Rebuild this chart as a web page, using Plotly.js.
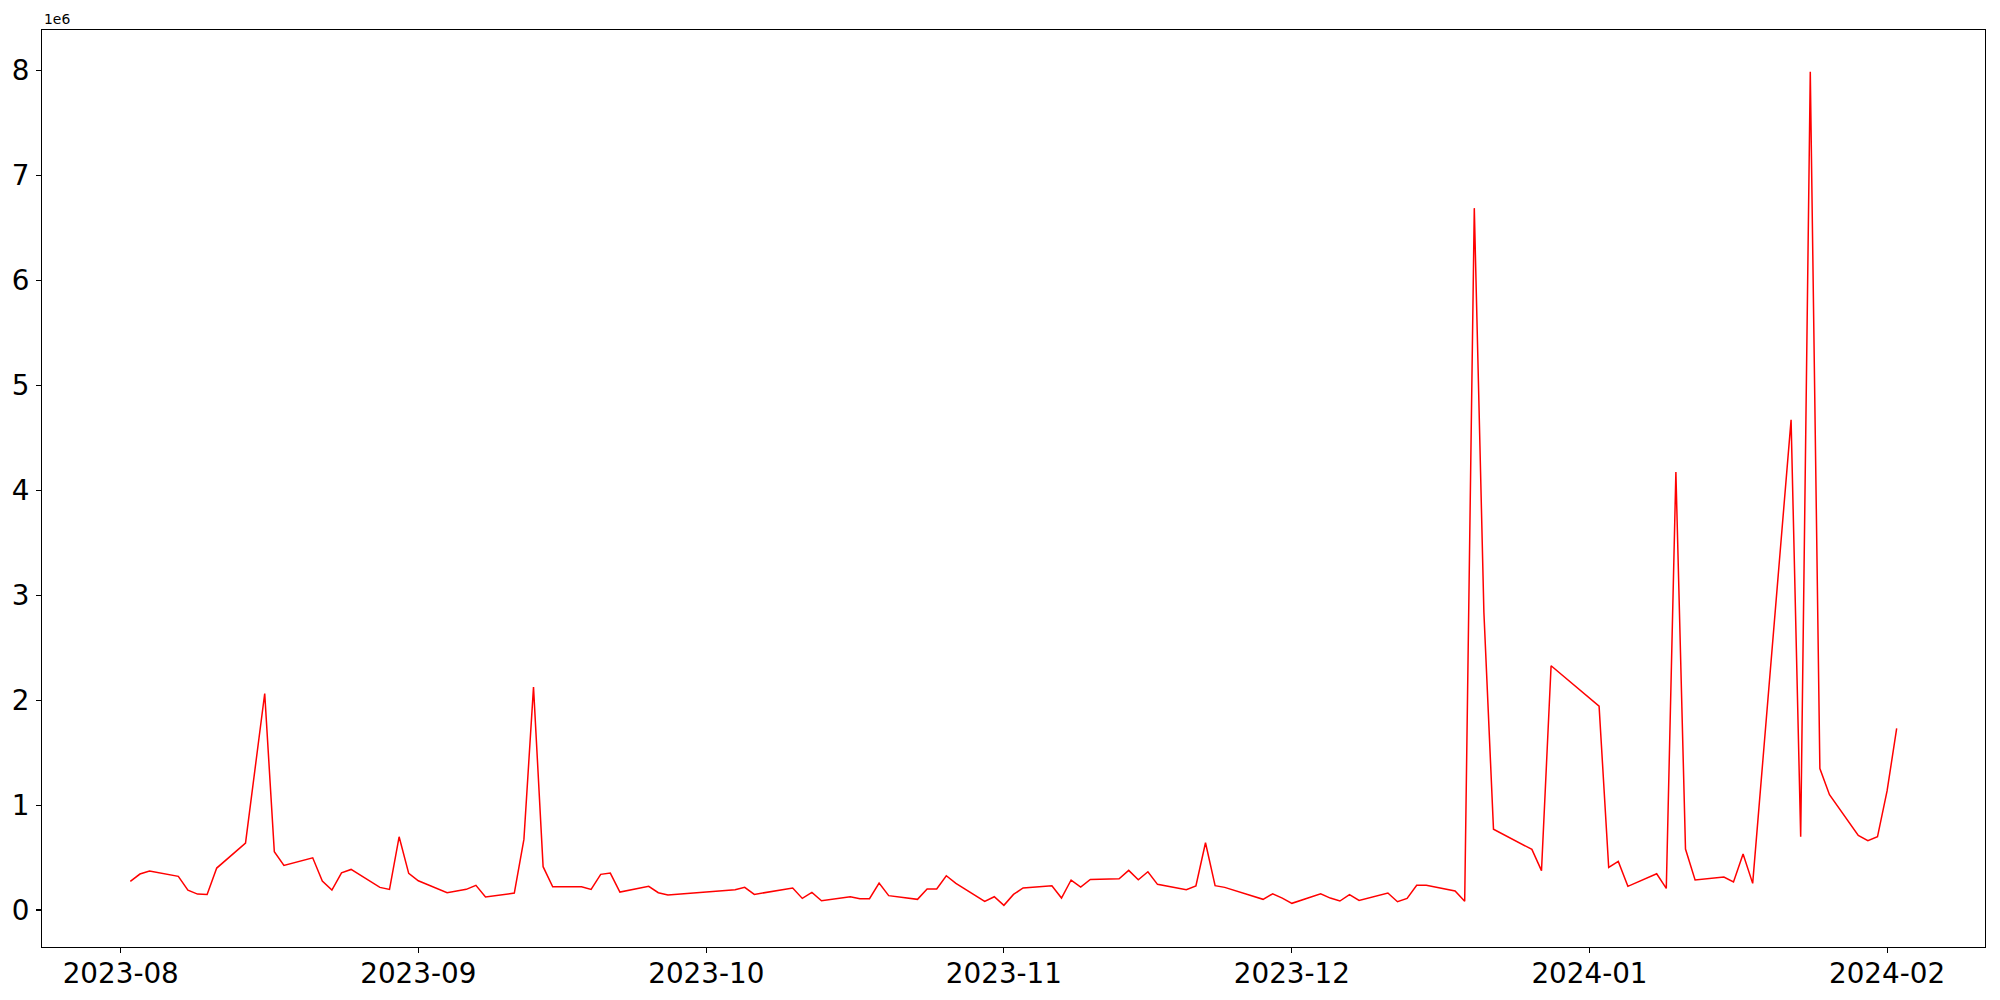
<!DOCTYPE html>
<html>
<head>
<meta charset="utf-8">
<script src="https://cdn.plot.ly/plotly-3.0.1.min.js"></script>
<style>
  html, body { margin: 0; padding: 0; background: #ffffff; }
  #chart { width: 2000px; height: 1000px; }
</style>
</head>
<body>
<div id="chart"></div>
<script>
// Dates of the series (trading days)
const dates = [
  "2023-08-02","2023-08-03","2023-08-04","2023-08-07","2023-08-08","2023-08-09","2023-08-10","2023-08-11",
  "2023-08-14","2023-08-16","2023-08-17","2023-08-18","2023-08-21","2023-08-22","2023-08-23","2023-08-24",
  "2023-08-25","2023-08-28","2023-08-29","2023-08-30","2023-08-31","2023-09-01","2023-09-04","2023-09-06",
  "2023-09-07","2023-09-08","2023-09-11","2023-09-12","2023-09-13","2023-09-14","2023-09-15","2023-09-18",
  "2023-09-19","2023-09-20","2023-09-21","2023-09-22","2023-09-25","2023-09-26","2023-09-27","2023-10-04",
  "2023-10-05","2023-10-06","2023-10-10","2023-10-11","2023-10-12","2023-10-13","2023-10-16","2023-10-17",
  "2023-10-18","2023-10-19","2023-10-20","2023-10-23","2023-10-24","2023-10-25","2023-10-26","2023-10-27",
  "2023-10-30","2023-10-31","2023-11-01","2023-11-02","2023-11-03","2023-11-06","2023-11-07","2023-11-08",
  "2023-11-09","2023-11-10","2023-11-13","2023-11-14","2023-11-15","2023-11-16","2023-11-17","2023-11-20",
  "2023-11-21","2023-11-22","2023-11-23","2023-11-24","2023-11-28","2023-11-29","2023-11-30","2023-12-01",
  "2023-12-04","2023-12-05","2023-12-06","2023-12-07","2023-12-08","2023-12-11","2023-12-12","2023-12-13",
  "2023-12-14","2023-12-15","2023-12-18","2023-12-19","2023-12-20","2023-12-21","2023-12-22","2023-12-26",
  "2023-12-27","2023-12-28","2024-01-02","2024-01-03","2024-01-04","2024-01-05","2024-01-08","2024-01-09",
  "2024-01-10","2024-01-11","2024-01-12","2024-01-15","2024-01-16","2024-01-17","2024-01-18","2024-01-22",
  "2024-01-23","2024-01-24","2024-01-25","2024-01-26","2024-01-29","2024-01-30","2024-01-31","2024-02-01",
  "2024-02-02"
];

// Series values
const values = [
  273000, 343000, 371000, 321000, 190000, 152000, 149000, 400000,
  638000, 2063000, 555000, 425000, 498000, 276000, 190000, 355000,
  387000, 216000, 197000, 698000, 349000, 279000, 165000, 197000,
  235000, 124000, 162000, 673000, 2124000, 413000, 222000, 222000,
  197000, 340000, 352000, 171000, 226000, 165000, 143000, 193000,
  216000, 149000, 210000, 111000, 168000, 89000, 127000, 108000,
  108000, 257000, 137000, 102000, 200000, 200000, 327000, 254000,
  83000, 127000, 45000, 149000, 210000, 232000, 114000, 286000,
  219000, 292000, 298000, 378000, 289000, 365000, 245000, 194000,
  229000, 641000, 232000, 216000, 102000, 155000, 114000, 64000,
  155000, 114000, 86000, 146000, 92000, 162000, 79000, 111000,
  235000, 235000, 181000, 83000, 6687000, 2838000, 770000, 578000,
  375000, 2327000, 1943000, 406000, 463000, 226000, 346000, 206000,
  4172000, 581000, 286000, 314000, 267000, 533000, 254000, 4670000,
  698000, 7987000, 1348000, 1099000, 710000, 661000, 698000, 1135000,
  1730000
];

// Tick labels
const xTickVals = ["2023-08-01","2023-09-01","2023-10-01","2023-11-01","2023-12-01","2024-01-01","2024-02-01"];
const xTickText = ["2023-08","2023-09","2023-10","2023-11","2023-12","2024-01","2024-02"];
const yTickVals = [0, 1e6, 2e6, 3e6, 4e6, 5e6, 6e6, 7e6, 8e6];
const yTickText = ["0","1","2","3","4","5","6","7","8"];
const yOffsetText = "1e6";

// Autoscale with 5% margins (matplotlib default)
function toMs(s) { const p = s.split("-").map(Number); return Date.UTC(p[0], p[1]-1, p[2]); }
function fmt(ms) { return new Date(ms).toISOString().replace("T"," ").replace("Z",""); }
const t0 = toMs(dates[0]), t1 = toMs(dates[dates.length-1]);
const tpad = (t1 - t0) * 0.05;
const vmin = Math.min(...values), vmax = Math.max(...values);
const vpad = (vmax - vmin) * 0.05;

const font = "DejaVu Sans, Liberation Sans, sans-serif";

const trace = {
  x: dates, y: values, type: "scatter", mode: "lines",
  line: { color: "#ff0000", width: 1.5 },
  hoverinfo: "skip"
};

const axisCommon = {
  showline: true, mirror: true, linecolor: "#000000", linewidth: 1.1,
  ticks: "outside", ticklen: 5, tickwidth: 1.1, tickcolor: "#000000",
  showgrid: false, zeroline: false,
  tickfont: { family: font, size: 27.8, color: "#000000" }
};

const layout = {
  width: 2000, height: 1000,
  margin: { l: 42, r: 15, t: 30, b: 53 },
  paper_bgcolor: "#ffffff", plot_bgcolor: "#ffffff",
  showlegend: false,
  xaxis: Object.assign({}, axisCommon, {
    type: "date",
    range: [fmt(t0 - tpad), fmt(t1 + tpad)],
    tickmode: "array", tickvals: xTickVals, ticktext: xTickText,
    ticklabelstandoff: -3
  }),
  yaxis: Object.assign({}, axisCommon, {
    range: [vmin - vpad, vmax + vpad],
    tickmode: "array", tickvals: yTickVals, ticktext: yTickText,
    ticklabelstandoff: 1
  }),
  annotations: [{
    text: yOffsetText, xref: "paper", yref: "paper", x: 0, y: 1,
    xanchor: "left", yanchor: "bottom", showarrow: false, yshift: 1,
    font: { family: font, size: 13.9, color: "#000000" }
  }]
};

Plotly.newPlot("chart", [trace], layout, { displayModeBar: false, staticPlot: true });
</script>
</body>
</html>
